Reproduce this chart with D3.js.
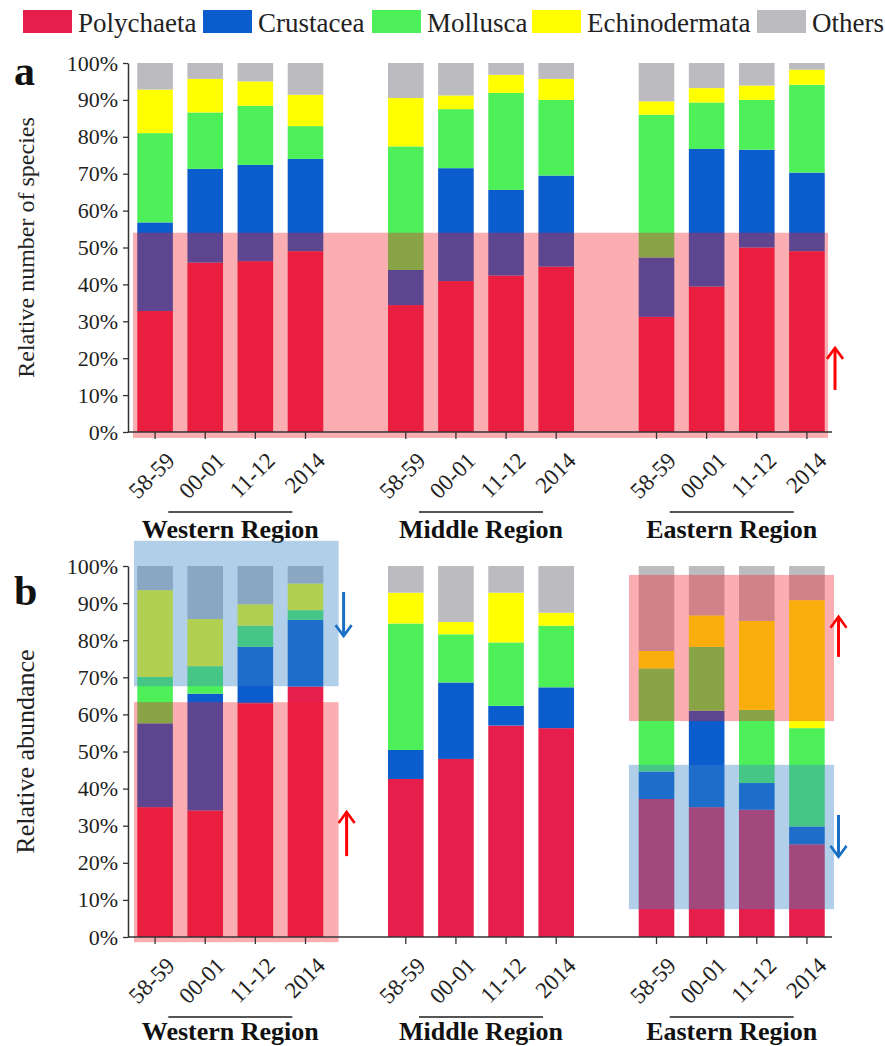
<!DOCTYPE html>
<html>
<head>
<meta charset="utf-8">
<script src="https://cdn.jsdelivr.net/npm/d3@7"></script>
<style>
  html, body { margin: 0; padding: 0; background: #fff; }
</style>
</head>
<body>
<script>
// ---- data -------------------------------------------------------------
const taxa = ["Polychaeta", "Crustacea", "Mollusca", "Echinodermata", "Others"];
const taxonColors = ["#e61e4b", "#0b5ccc", "#4ef05a", "#ffff00", "#bcbcc0"];
const regions = ["Western Region", "Middle Region", "Eastern Region"];
const periods = ["58-59", "00-01", "11-12", "2014"];
const yTicks = [0, 10, 20, 30, 40, 50, 60, 70, 80, 90, 100];

// (a) relative number of species, % — 4 periods per region, W / M / E
const speciesPolychaeta    = [32.8, 45.9, 46.3, 49.0, 34.4, 40.9, 42.4, 44.8, 31.2, 39.4, 50.0, 49.0];
const speciesCrustacea     = [24.0, 25.4, 26.1, 25.0,  9.5, 30.6, 23.2, 24.7, 16.1, 37.3, 26.5, 21.3];
const speciesMollusca      = [24.2, 15.3, 16.0,  8.9, 33.5, 16.0, 26.3, 20.5, 38.7, 12.6, 13.5, 23.8];
const speciesEchinodermata = [11.8,  9.1,  6.6,  8.5, 13.1,  3.7,  4.9,  5.7,  3.6,  3.9,  3.9,  4.1];
const speciesOthers        = [ 7.2,  4.3,  5.0,  8.6,  9.5,  8.8,  3.2,  4.3, 10.4,  6.8,  6.1,  1.8];

// (b) relative abundance, %
const abundPolychaeta    = [35.0, 34.1, 63.0, 67.5, 42.6, 48.0, 57.0, 56.3, 37.2, 35.0, 34.3, 25.0];
const abundCrustacea     = [22.6, 31.5, 15.2, 18.0,  7.8, 20.6,  5.3, 11.0,  7.4, 26.0,  7.2,  4.8];
const abundMollusca      = [12.5,  7.4,  5.7,  2.6, 34.1, 13.0, 17.1, 16.6, 27.8, 17.2, 19.7, 26.5];
const abundEchinodermata = [23.4, 12.7,  5.8,  7.2,  8.3,  3.3, 13.4,  3.5,  4.7,  8.5, 24.0, 34.5];
const abundOthers        = [ 6.5, 14.3, 10.3,  4.7,  7.2, 15.1,  7.2, 12.6, 22.9, 13.3, 14.8,  9.2];

// ---- layout -----------------------------------------------------------
const W = 885, H = 1046;
const FONT = "'Liberation Serif', 'Times New Roman', Times, 'DejaVu Serif', serif";
const svg = d3.select("body").append("svg")
  .attr("width", W).attr("height", H)
  .style("display", "block")
  .attr("font-family", FONT);

const RISE = "rgba(240, 30, 40, 0.36)";
const FALL = "rgba(60, 135, 200, 0.40)";

// one band per bar, with an empty band between regions
const slots = [];
regions.forEach((r, i) => {
  if (i > 0) slots.push("gap" + i);
  periods.forEach(p => slots.push(r + "|" + p));
});
const barKeys = slots.filter(s => !s.startsWith("gap"));

const x = d3.scaleBand().domain(slots).range([130, 832])
  .paddingInner(0.29).paddingOuter(0.145);
const step = x.step();
const centre0 = x(slots[0]) + x.bandwidth() / 2;
const slotPos = s => centre0 + s * step;  // continuous position in band units

function makeRows(series) {
  return barKeys.map((k, i) => {
    const row = { key: k };
    taxa.forEach((t, j) => { row[t] = series[j][i]; });
    return row;
  });
}

function arrow(g, cx, yTail, yHead, color) {
  const dir = yHead < yTail ? 1 : -1;
  g.append("line")
    .attr("x1", cx).attr("x2", cx)
    .attr("y1", yTail).attr("y2", yHead + dir * 1)
    .attr("stroke", color).attr("stroke-width", 3);
  g.append("path")
    .attr("d", `M${cx - 8},${yHead + dir * 11} L${cx},${yHead} L${cx + 8},${yHead + dir * 11}`)
    .attr("fill", "none").attr("stroke", color).attr("stroke-width", 2.6)
    .attr("stroke-linejoin", "miter");
}

function drawPanel(cfg) {
  const g = svg.append("g");
  const y = d3.scaleLinear().domain([0, 100]).range([cfg.bottom, cfg.top]);
  const rows = makeRows(cfg.series);
  const stacked = d3.stack().keys(taxa)(rows);

  // stacked bars
  g.selectAll("g.layer").data(stacked).join("g")
    .attr("class", "layer")
    .attr("fill", (d, i) => taxonColors[i])
    .selectAll("rect").data(d => d).join("rect")
    .attr("x", d => x(d.data.key))
    .attr("width", x.bandwidth())
    .attr("y", d => y(d[1]))
    .attr("height", d => y(d[0]) - y(d[1]));

  // shaded trend bands
  g.selectAll("rect.hl").data(cfg.highlights).join("rect")
    .attr("class", "hl")
    .attr("x", d => slotPos(d.from))
    .attr("width", d => slotPos(d.to) - slotPos(d.from))
    .attr("y", d => y(d.high))
    .attr("height", d => y(d.low) - y(d.high))
    .attr("fill", d => d.fill);

  // y axis
  const ya = g.append("g").attr("transform", "translate(128,0)")
    .call(d3.axisLeft(y).tickValues(yTicks).tickFormat(d => d + "%")
      .tickSize(5).tickSizeOuter(0).tickPadding(5));
  ya.attr("font-family", FONT);
  ya.select(".domain").attr("stroke", "#333").attr("stroke-width", 1.5);
  ya.selectAll(".tick line").attr("stroke", "#333").attr("stroke-width", 1.3);
  ya.selectAll(".tick text")
    .attr("font-family", FONT)
    .attr("font-size", 22).attr("fill", "#222");

  // x axis
  const xa = g.append("g").attr("transform", `translate(0,${cfg.bottom})`)
    .call(d3.axisBottom(x).tickValues(barKeys).tickFormat(k => k.split("|")[1])
      .tickSize(7).tickSizeOuter(0));
  xa.attr("font-family", FONT);
  xa.select(".domain").attr("stroke", "#333").attr("stroke-width", 1.5)
    .attr("d", `M128,0H832`);
  xa.selectAll(".tick line").attr("stroke", "#333").attr("stroke-width", 1.3);
  xa.selectAll(".tick text")
    .attr("font-family", FONT)
    .attr("font-size", 23).attr("fill", "#222")
    .attr("x", 0).attr("y", 0).attr("dy", 0)
    .attr("text-anchor", "end")
    .attr("transform", "translate(21,30) rotate(-45)");

  // region captions
  regions.forEach((r, i) => {
    const keys = barKeys.filter(k => k.startsWith(r));
    const cx = d3.mean(keys, k => x(k) + x.bandwidth() / 2);
    g.append("line")
      .attr("x1", cx - 62).attr("x2", cx + 62)
      .attr("y1", cfg.bottom + 80).attr("y2", cfg.bottom + 80)
      .attr("stroke", "#555").attr("stroke-width", 2);
    g.append("text")
      .attr("x", cx).attr("y", cfg.bottom + cfg.captionDy)
      .attr("text-anchor", "middle")
      .attr("font-size", 26).attr("font-weight", "bold").attr("fill", "#111")
      .text(r);
  });

  // axis title
  g.append("text")
    .attr("transform", `translate(34,${(cfg.top + cfg.bottom) / 2}) rotate(-90)`)
    .attr("text-anchor", "middle")
    .attr("font-size", cfg.titleSize).attr("fill", "#222")
    .text(cfg.title);

  // panel letter
  g.append("text")
    .attr("x", 14).attr("y", cfg.letterY)
    .attr("font-size", 42).attr("font-weight", "bold").attr("fill", "#111")
    .text(cfg.letter);

  // trend arrows
  cfg.arrows.forEach(a => {
    arrow(g, slotPos(a.at), y(a.tail), y(a.head), a.color);
  });
}

drawPanel({
  top: 63, bottom: 432, letter: "a", letterY: 85, captionDy: 106, titleSize: 24,
  title: "Relative number of species",
  series: [speciesPolychaeta, speciesCrustacea, speciesMollusca, speciesEchinodermata, speciesOthers],
  highlights: [{ from: -0.44, to: 13.42, low: -1.6, high: 54, fill: RISE }],
  arrows: [{ at: 13.56, tail: 11.4, head: 22.8, color: "#ff0000" }]
});

drawPanel({
  top: 566, bottom: 937, letter: "b", letterY: 605, captionDy: 103, titleSize: 26,
  title: "Relative abundance",
  series: [abundPolychaeta, abundCrustacea, abundMollusca, abundEchinodermata, abundOthers],
  highlights: [
    { from: -0.42, to: 3.66, low: 67.6, high: 106.8, fill: FALL },
    { from: -0.42, to: 3.66, low: -1.4, high: 63.3, fill: RISE },
    { from: 9.45, to: 13.54, low: 58.2, high: 97.6, fill: RISE },
    { from: 9.45, to: 13.54, low: 7.5, high: 46.4, fill: FALL }
  ],
  arrows: [
    { at: 3.76, tail: 93.0, head: 81.1, color: "#1a6fc4" },
    { at: 3.82, tail: 21.8, head: 33.7, color: "#ff0000" },
    { at: 13.63, tail: 75.5, head: 86.3, color: "#ff0000" },
    { at: 13.63, tail: 32.9, head: 21.6, color: "#1a6fc4" }
  ]
});

// legend
const legendX = [23, 203, 372, 532, 757];
const legend = svg.append("g");
taxa.forEach((t, i) => {
  legend.append("rect")
    .attr("x", legendX[i]).attr("y", 10).attr("width", 49).attr("height", 23)
    .attr("fill", taxonColors[i]);
  legend.append("text")
    .attr("x", legendX[i] + 55).attr("y", 32)
    .attr("font-size", 27).attr("fill", "#222")
    .text(t);
});
</script>
</body>
</html>
